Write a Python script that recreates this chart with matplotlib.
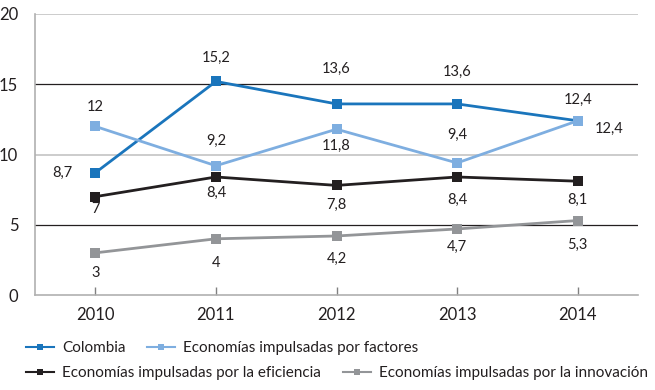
import matplotlib
matplotlib.use("Agg")
import matplotlib.pyplot as plt
from matplotlib.lines import Line2D

plt.rcParams['font.family'] = ['Lato', 'DejaVu Sans']

years = [2010, 2011, 2012, 2013, 2014]
colombia = [8.7, 15.2, 13.6, 13.6, 12.4]
factores = [12, 9.2, 11.8, 9.4, 12.4]
eficiencia = [7, 8.4, 7.8, 8.4, 8.1]
innovacion = [3, 4, 4.2, 4.7, 5.3]
names = ["Colombia", "Economías impulsadas por factores",
         "Economías impulsadas por la eficiencia",
         "Economías impulsadas por la innovación"]
yticks = [0, 5, 10, 15, 20]

colors = ["#1a75bc", "#7eaee0", "#231f20", "#939598"]
txt = "#231f20"

# label offsets in pixels (dx, dy)
offs = [
    [(-33, 0), (0, 24), (0, 35), (0, 32), (0, 21)],
    [(0, 19), (0, 25), (0, -17), (0, 28), (31, -8)],
    [(0, -12), (0, -16), (0, -19), (0, -23), (0, -19)],
    [(0, -20), (0, -24), (0, -23), (0, -18), (0, -24)],
]

fig = plt.figure(figsize=(6.55, 3.9), dpi=100)
ax = fig.add_axes([35/655, 1-295/390, (638-35)/655, (295-14)/390])

series = [colombia, factores, eficiencia, innovacion]
lws = [2.0, 2.0, 2.0, 2.0]
for s, c, n, off in zip(series, colors, names, offs):
    ax.plot(years, s, color=c, lw=2.0, marker='s', markersize=7.5,
            markeredgewidth=0, label=n, zorder=3)
    for x, y, (dx, dy) in zip(years, s, off):
        lab = ("%g" % y).replace('.', ',')
        ax.annotate(lab, (x, y), xytext=(dx, dy), textcoords='offset pixels',
                    ha='center', va='center', fontsize=10.5, color=txt, zorder=4)

ax.set_xlim(2009.5, 2014.5)
ax.set_ylim(0, 20)
ax.set_yticks(yticks)
ax.set_xticks(years)
ax.set_xticklabels([str(y) for y in years])

grid_cols = {20: "#c8c8c8", 15: "#231f20", 10: "#c8c8c8", 5: "#231f20"}
grid_lw = {20: 1.3, 15: 0.9, 10: 1.3, 5: 0.9}
for v in yticks[1:]:
    ax.axhline(v, color=grid_cols[v], lw=grid_lw[v], zorder=1)

for sp in ['top', 'right']:
    ax.spines[sp].set_visible(False)
ax.spines['left'].set_color("#b0b0b0")
ax.spines['left'].set_linewidth(1.2)
ax.spines['bottom'].set_color("#b0b0b0")
ax.spines['bottom'].set_linewidth(1.2)
ax.tick_params(axis='y', length=0, pad=12, labelsize=12, labelcolor=txt)
ax.tick_params(axis='x', direction='in', length=6, color="#808080", width=1,
               pad=9, labelsize=12, labelcolor=txt)

# legend, one entry per box
pos = [(26, 348), (147, 348), (26, 373), (343, 373)]
for c, n, (px, py) in zip(colors, names, pos):
    h = Line2D([], [], color=c, lw=1.5, marker='s', markersize=5, markeredgewidth=0)
    fig.legend([h], [n], loc='center left', bbox_to_anchor=(px/655, 1-py/390),
               frameon=False, borderpad=0, borderaxespad=0, handlelength=1.85,
               handletextpad=0.5, fontsize=11, labelcolor=txt)

fig.savefig("out.png", dpi=100)
